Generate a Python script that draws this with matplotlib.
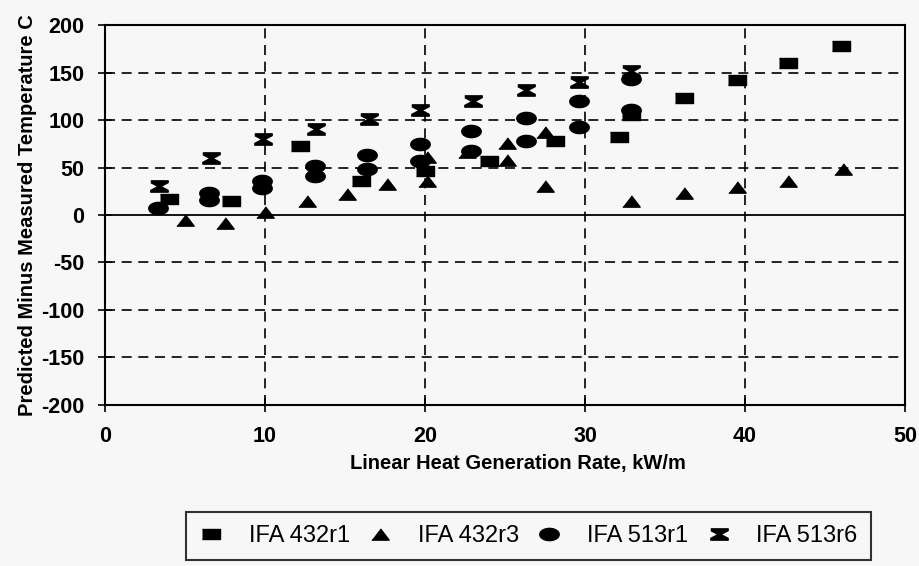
import numpy as np
import matplotlib
matplotlib.use("Agg")
import matplotlib.pyplot as plt

plt.rcParams['font.family'] = ['Liberation Sans', 'DejaVu Sans']
plt.rcParams['axes.unicode_minus'] = False

# IFA 432r1 (squares)
r1_432_x = [4.0, 7.9, 12.2, 16.0, 20.0, 24.0, 28.1, 32.1, 32.9, 36.2, 39.5, 42.7, 46.0]
r1_432_y = [17, 15, 73, 36, 46, 57, 78, 82, 105, 123, 142, 160, 178]

# IFA 432r3 (triangles)
r3_432_x = [5.0, 7.5, 10.0, 12.6, 15.1, 17.6, 20.1, 20.1, 22.6, 25.1, 25.1, 27.5, 27.5,
            32.9, 36.2, 39.5, 42.7, 46.1]
r3_432_y = [-5, -8, 3, 15, 22, 33, 36, 61, 66, 58, 76, 87, 31, 15, 23, 29, 36, 48]

# IFA 513r1 (circles)
r1_513_x = [3.3, 6.5, 6.5, 9.8, 9.8, 13.1, 13.1, 16.4, 16.4, 19.7, 19.7, 22.9, 22.9,
            26.3, 26.3, 29.6, 29.6, 32.9, 32.9]
r1_513_y = [7, 23, 16, 36, 28, 52, 41, 63, 48, 75, 57, 88, 67, 102, 78, 120, 93, 143, 111]

# IFA 513r6 (hourglass)
r6_513_x = [3.4, 6.6, 9.9, 13.2, 16.5, 19.7, 23.0, 26.3, 29.6, 32.9]
r6_513_y = [31, 60, 80, 91, 101, 111, 120, 132, 140, 152]

labels = ["IFA 432r1", "IFA 432r3", "IFA 513r1", "IFA 513r6"]

# marker shapes (wide, flattened like the original)
rect_m = [(-1, -0.6), (1, -0.6), (1, 0.6), (-1, 0.6)]
tri_m = [(-1, -0.65), (1, -0.65), (0, 0.65)]
t = np.linspace(0, 2 * np.pi, 40)
ell_m = list(zip(np.cos(t), 0.63 * np.sin(t)))
hour_m = [(-1, 0.65), (1, 0.65), (1, 0.45), (0.15, 0), (1, -0.45), (1, -0.65),
          (-1, -0.65), (-1, -0.45), (-0.15, 0), (-1, 0.45)]

bg = "#f7f7f7"
fig = plt.figure(figsize=(9.2, 5.66), dpi=100, facecolor=bg)
ax = fig.add_axes([0.1141, 0.2845, 0.8696, 0.6713], facecolor=bg)

ms = 12.5
ax.plot(r1_432_x, r1_432_y, ls="none", marker=rect_m, ms=ms, color="black", label=labels[0])
ax.plot(r3_432_x, r3_432_y, ls="none", marker=tri_m, ms=ms, color="black", label=labels[1])
ax.plot(r1_513_x, r1_513_y, ls="none", marker=ell_m, ms=ms + 1.5, color="black", label=labels[2])
ax.plot(r6_513_x, r6_513_y, ls="none", marker=hour_m, ms=ms, color="black", label=labels[3])

ax.set_xlim(0, 50)
ax.set_ylim(-200, 200)
ax.set_xticks(range(0, 51, 10))
ax.set_yticks(range(-200, 201, 50))

for gx in range(10, 50, 10):
    ax.axvline(gx, color="black", lw=1.2, ls=(0, (6, 4)), zorder=0)
for gy in [-150, -100, -50, 50, 100, 150]:
    ax.axhline(gy, color="black", lw=1.2, ls=(0, (6, 4)), zorder=0)
ax.axhline(0, color="black", lw=1.3, zorder=1)

for s in ax.spines.values():
    s.set_linewidth(1.5)
ax.tick_params(direction="inout", length=10, width=1.2, labelsize=15.5, pad=10)
for lab in ax.get_xticklabels() + ax.get_yticklabels():
    lab.set_fontweight("bold")

ax.set_xlabel("Linear Heat Generation Rate, kW/m", fontsize=14.5, fontweight="bold")
ax.xaxis.set_label_coords(0.516, -0.128)
ax.set_ylabel("Predicted Minus Measured Temperature C", fontsize=14.5, fontweight="bold")
ax.yaxis.set_label_coords(-0.085, 0.5)

leg = fig.legend(loc="center", bbox_to_anchor=(0.5745, 0.053), ncol=4, fontsize=17,
                 frameon=True, fancybox=False, edgecolor="black", facecolor=bg,
                 markerscale=1.0, handlelength=1.0, handletextpad=1.1, columnspacing=0.78,
                 borderpad=0.55)
leg.get_frame().set_linewidth(1.5)

fig.savefig("out.png", dpi=100, facecolor=bg)
